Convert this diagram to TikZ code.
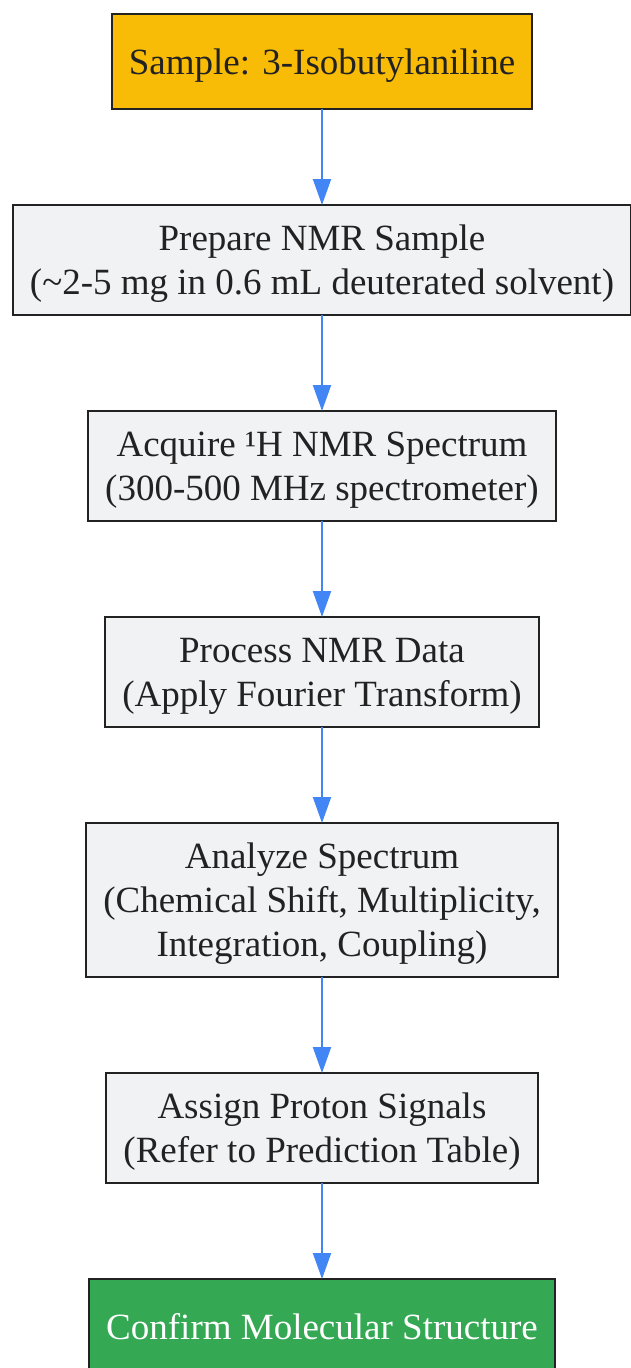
\documentclass[tikz,border=0pt]{standalone}
\usepackage{fontspec}
\setmainfont{Liberation Serif}
\usepackage{tikz}
\usetikzlibrary{arrows.meta,positioning}
\definecolor{samplefill}{HTML}{F9BC06}
\definecolor{stepfill}{HTML}{F1F2F4}
\definecolor{donefill}{HTML}{34A853}
\definecolor{edgeblue}{HTML}{4285F4}
\definecolor{inkgray}{HTML}{222222}

\begin{document}
\begin{tikzpicture}[->,>={Triangle[length=26pt,width=18pt]},x=1pt,y=1pt,node distance=96pt,
  stepbox/.style={draw=inkgray, line width=2pt, fill=stepfill, text=inkgray, align=center,
    inner xsep=17pt, inner ysep=0pt, outer sep=0pt, text depth=-2pt, font=\fontsize{37}{44}\selectfont},
  oneline/.style={minimum height=95pt},
  twoline/.style={minimum height=110pt},
  threeline/.style={minimum height=154pt},
  flow/.style={draw=edgeblue, line width=2pt}]
  \useasboundingbox (0,0) rectangle (631,-1368);

  \node [stepbox, oneline, fill=samplefill] (0) at (322,-61.5) {Sample: 3-Isobutylaniline};
  \node [stepbox, twoline, below=of 0] (1) {Prepare NMR Sample\\(\textasciitilde 2-5 mg in 0.6 mL deuterated solvent)};
  \node [stepbox, twoline, below=of 1] (2) {Acquire ¹H NMR Spectrum\\(300-500 MHz spectrometer)};
  \node [stepbox, twoline, below=of 2] (3) {Process NMR Data\\(Apply Fourier Transform)};
  \node [stepbox, threeline, below=of 3] (4) {Analyze Spectrum\\(Chemical Shift, Multiplicity,\\Integration, Coupling)};
  \node [stepbox, twoline, below=of 4] (5) {Assign Proton Signals\\(Refer to Prediction Table)};
  \node [stepbox, oneline, fill=donefill, text=white, below=of 5] (6) {Confirm Molecular Structure};

  \path[->] (0) edge [flow] (1);
  \path[->] (1) edge [flow] (2);
  \path[->] (2) edge [flow] (3);
  \path[->] (3) edge [flow] (4);
  \path[->] (4) edge [flow] (5);
  \path[->] (5) edge [flow] (6);
\end{tikzpicture}
\end{document}
